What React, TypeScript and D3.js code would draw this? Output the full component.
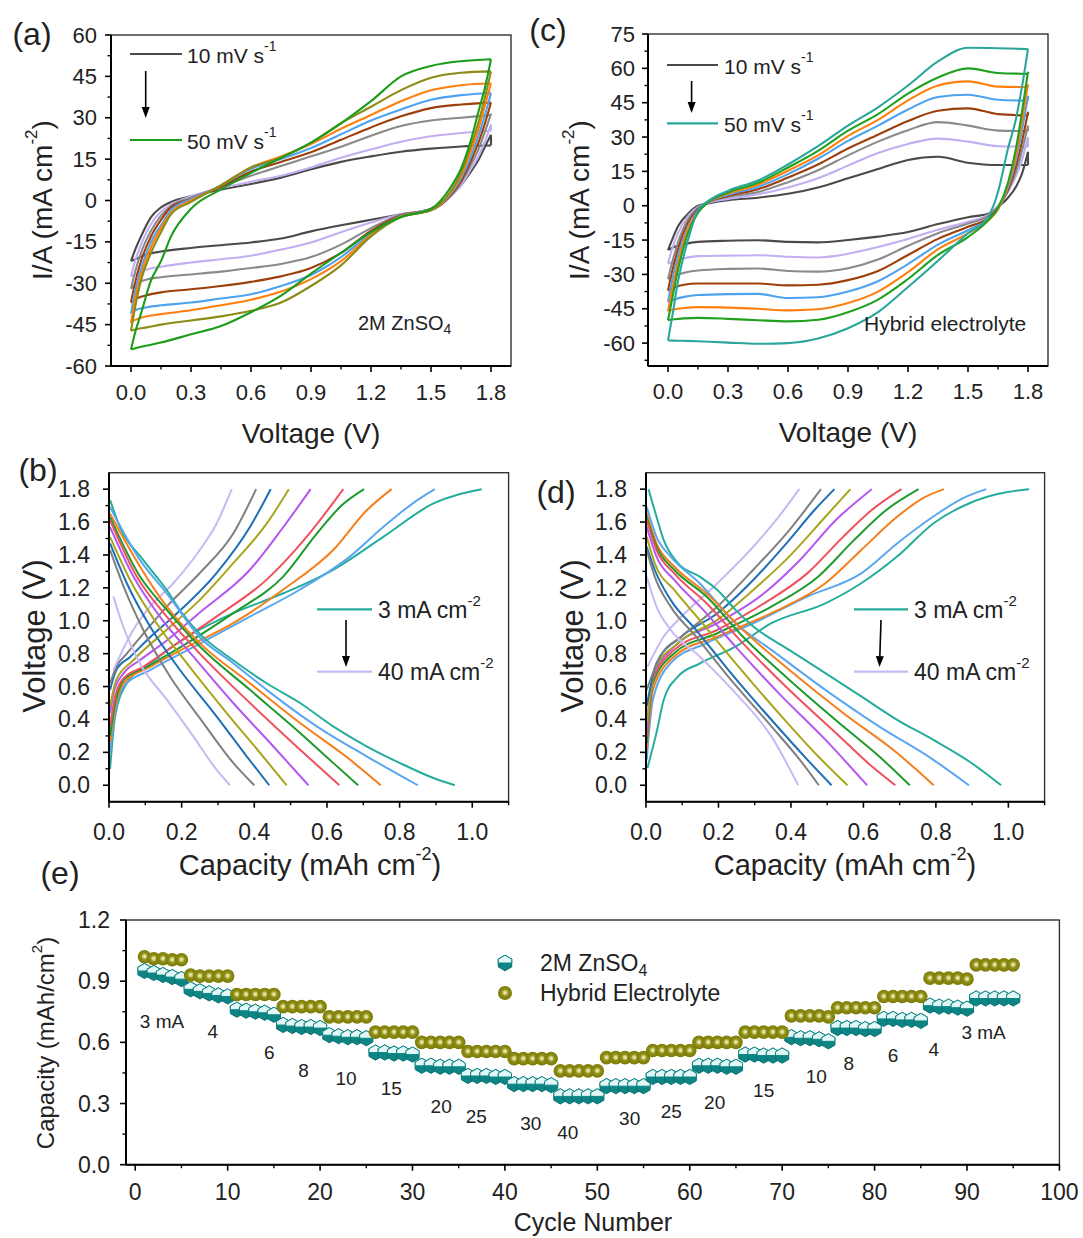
import React from "react";
import * as d3 from "d3";

const FONT = "'Liberation Sans', Arimo, Arial, Helvetica, sans-serif";

// ---------------- (a) / (c) cyclic voltammetry ----------------
const CV_UP_V = [0, 0.02, 0.05, 0.1, 0.15, 0.2, 0.3, 0.45, 0.6, 0.75, 0.9, 1.05, 1.2, 1.35, 1.5, 1.65, 1.8];
const CV_DN_V = [1.8, 1.77, 1.74, 1.7, 1.65, 1.6, 1.5, 1.35, 1.2, 1.05, 0.9, 0.75, 0.6, 0.45, 0.3, 0.15, 0.08, 0.03, 0];

const CV_A_COLORS = ["#4a4a4a", "#c3aef2", "#8a8a8a", "#9c3f0b", "#4fa3ee", "#ff7f0e", "#8b8b15", "#1c9c1c"];
const CV_C_COLORS = ["#4a4a4a", "#c3aef2", "#8a8a8a", "#9c3f0b", "#4fa3ee", "#ff7f0e", "#1fa01f", "#2aa69b"];

const CV_A_UPPER = [
  [-22, -18, -13, -6, -2.5, -0.5, 1.5, 4, 6, 8.3, 11.3, 14, 16, 17.7, 18.8, 19.6, 20],
  [-27.5, -22, -16, -8.5, -4, -1.5, 1.5, 4.5, 6.8, 9, 12, 15.5, 18.5, 21.3, 23.3, 24.5, 25.3],
  [-32, -26, -19, -11, -5.5, -2, 1, 5, 9, 12.5, 16, 19.5, 23.5, 27, 29, 30, 31],
  [-37, -30, -22, -13, -7, -2.5, 0.5, 5, 10.5, 14, 17.5, 22, 26.5, 30.5, 33.5, 34.8, 35.5],
  [-41, -33, -25, -15, -9, -3.5, 0.5, 5.5, 11.5, 15, 19, 24, 29, 33, 36.5, 38.2, 39],
  [-44.5, -36, -27, -17, -10, -4.5, 0, 5.5, 12, 16, 20.5, 26, 31, 36, 40, 41.8, 42.5],
  [-47.3, -39, -29, -19, -11.5, -5, -0.5, 5.5, 12, 15.5, 21, 28, 34, 40, 44.5, 46.3, 46.8],
  [-54, -48, -41, -29, -22, -13, -3, 4, 10, 15.5, 21, 28, 36, 45, 48.8, 50.5, 51.2],
];
const CV_A_LOWER = [
  [23.8, 19.5, 15, 10.5, 5.5, 2, -3, -5, -7, -9, -11.2, -13.8, -15.2, -16.2, -17.2, -18.5, -19.5, -21, -22],
  [27.5, 21.5, 16.5, 11.5, 5.5, 1.5, -3.3, -5, -8, -11.5, -15.2, -17.8, -20, -21.3, -22.5, -24, -25, -26.5, -27.5],
  [31.5, 25, 19, 13, 6.5, 2, -3.4, -5.2, -10, -16, -20.5, -23, -24.5, -25.8, -26.8, -27.8, -28.6, -30, -32],
  [35.5, 28, 21.5, 14.5, 7, 2, -3.5, -5.4, -11, -19, -24.5, -27.5, -29.5, -31, -32.2, -33.3, -34.3, -35.5, -37],
  [39, 31, 24, 16, 8, 2.5, -3.5, -5.6, -12, -20.5, -27, -31, -34, -35.5, -37, -38, -38.7, -39.5, -40.5],
  [42.5, 34.5, 26.5, 18, 9, 3, -3.5, -5.8, -12.5, -22, -28.5, -33, -36, -38, -39.8, -41.2, -42, -43, -44],
  [46.8, 37.5, 29, 20, 10, 3.5, -3.5, -6, -13, -23.5, -31, -37, -40, -42, -43.5, -45, -46, -46.6, -47.2],
  [51.2, 41, 33, 22, 11.5, 5, -3, -6, -11.5, -19, -26.5, -34.5, -40.5, -45.5, -48.5, -51.5, -52.6, -53.4, -54],
];

const CV_C_UPPER = [
  [-19.4, -15, -9, -3.5, 0, 1, 2.4, 3.5, 5.2, 8, 12, 16, 20, 21.4, 18.8, 17.8, 17.8],
  [-25.3, -19, -12, -4.5, -0.5, 1.2, 3, 5, 8, 12, 17.5, 23, 27, 29.3, 28, 26, 25.8],
  [-32, -25, -16, -6, -1, 1.5, 3.8, 6, 10.3, 15.5, 22, 28, 33, 36.5, 35, 32.8, 32.6],
  [-37, -29, -19, -7.5, -1.5, 1.5, 4.3, 7.2, 12.3, 18, 25, 31, 37, 41.5, 42.5, 40, 39.4],
  [-42, -33, -22, -9, -2, 1.5, 4.8, 8.2, 13.8, 20.5, 28.3, 35, 42, 47.5, 48.5, 46.3, 45.9],
  [-46, -37, -25, -10, -2.5, 1.5, 5.3, 9.2, 15.3, 22, 30.5, 37.5, 46, 52.5, 54.3, 52, 51.8],
  [-50, -41, -28, -12, -3, 1.5, 5.8, 10, 16.7, 24, 32.8, 40, 49, 56, 60, 58, 57.6],
  [-58.8, -49, -33, -15, -2, 2, 6.5, 11, 18, 26, 35, 43, 52.5, 63, 69, 68.8, 68.4],
];
const CV_C_LOWER = [
  [23.6, 14, 8.3, 3.5, -0.5, -3.5, -5, -8, -11.5, -13.5, -15, -16, -15.8, -15.1, -15.3, -15.8, -16.8, -18, -19.4],
  [30, 20, 13, 6, 0, -4, -7, -10.5, -14.5, -18, -21, -22.6, -22.3, -21.6, -21.8, -22, -23, -24.3, -25.3],
  [35, 24, 15, 6.5, -0.5, -4.5, -7.8, -12, -17.5, -23.5, -27.3, -28.8, -28.5, -27.4, -27.6, -28.3, -29.3, -30.8, -32],
  [41, 28, 17.5, 7, -1, -5.5, -9.2, -14.5, -21.5, -28.5, -32.5, -34.5, -34.8, -34, -34, -34, -34.5, -35.8, -37],
  [48, 33, 20, 8, -1.5, -6, -10.7, -17, -25.5, -33, -37.5, -40, -40.3, -38.5, -38.6, -39, -39.8, -41, -42],
  [53, 37, 22, 9, -1.5, -6.5, -12.1, -19, -29, -37.5, -42.5, -45.2, -45.7, -45, -44.5, -44.3, -44.7, -45.3, -46],
  [58.5, 41, 25, 10, -1, -6.5, -13.7, -21.5, -32, -41, -46.5, -49.8, -50.5, -50, -49.4, -49, -49.2, -49.6, -50],
  [68.4, 52, 38, 25, 6, -5, -12, -24, -35.5, -46.5, -53.5, -58, -60, -60.3, -59.8, -59.2, -59, -58.9, -58.8],
];

const CV_X_TICKS = [0, 0.3, 0.6, 0.9, 1.2, 1.5, 1.8];
const CV_X_MINOR = [0.15, 0.45, 0.75, 1.05, 1.35, 1.65];
const A_Y_TICKS = [-60, -45, -30, -15, 0, 15, 30, 45, 60];
const A_Y_MINOR = [-52.5, -37.5, -22.5, -7.5, 7.5, 22.5, 37.5, 52.5];
const C_Y_TICKS = [-60, -45, -30, -15, 0, 15, 30, 45, 60, 75];
const C_Y_MINOR = [-67.5, -52.5, -37.5, -22.5, -7.5, 7.5, 22.5, 37.5, 52.5, 67.5];

// ---------------- (b) / (d) charge-discharge ----------------
const GCD_COLORS = ["#25ad9c", "#5aa7ef", "#f47f1d", "#1f9a2e", "#f0515c", "#b457f0", "#a9a51d", "#1f6fb6", "#808080", "#c9b9f2"];

const GCD_B_CHARGE = [
  [[0.003, 0.1], [0.017, 0.42], [0.049, 0.62], [0.113, 0.74], [0.214, 0.9], [0.342, 1.046], [0.48, 1.167], [0.617, 1.31], [0.755, 1.51], [0.893, 1.713], [1.026, 1.8]],
  [[0.003, 0.2], [0.015, 0.42], [0.04, 0.6], [0.113, 0.7], [0.232, 0.84], [0.388, 1.025], [0.526, 1.19], [0.663, 1.39], [0.755, 1.57], [0.84, 1.72], [0.897, 1.8]],
  [[0.003, 0.26], [0.015, 0.45], [0.04, 0.62], [0.113, 0.72], [0.214, 0.84], [0.342, 0.985], [0.48, 1.19], [0.617, 1.43], [0.709, 1.67], [0.778, 1.8]],
  [[0.003, 0.3], [0.015, 0.48], [0.04, 0.64], [0.104, 0.72], [0.205, 0.85], [0.342, 1.046], [0.48, 1.27], [0.572, 1.53], [0.64, 1.7], [0.702, 1.8]],
  [[0.003, 0.36], [0.015, 0.52], [0.04, 0.65], [0.094, 0.72], [0.186, 0.86], [0.296, 1.025], [0.434, 1.25], [0.544, 1.51], [0.645, 1.8]],
  [[0.003, 0.44], [0.015, 0.58], [0.04, 0.68], [0.085, 0.76], [0.159, 0.88], [0.25, 1.05], [0.388, 1.31], [0.48, 1.57], [0.555, 1.8]],
  [[0.003, 0.48], [0.02, 0.64], [0.067, 0.76], [0.159, 0.945], [0.25, 1.127], [0.342, 1.35], [0.434, 1.59], [0.495, 1.8]],
  [[0.003, 0.58], [0.02, 0.7], [0.058, 0.78], [0.113, 0.9], [0.177, 1.025], [0.296, 1.29], [0.388, 1.57], [0.445, 1.8]],
  [[0.003, 0.62], [0.02, 0.72], [0.049, 0.8], [0.094, 0.92], [0.159, 1.086], [0.25, 1.29], [0.342, 1.53], [0.405, 1.8]],
  [[0.012, 0.7], [0.067, 0.945], [0.113, 1.086], [0.177, 1.228], [0.25, 1.43], [0.296, 1.59], [0.338, 1.8]],
];
const GCD_B_DISCHARGE = [
  [[0.003, 1.733], [0.03, 1.57], [0.094, 1.37], [0.159, 1.187], [0.2, 1.05], [0.25, 0.92], [0.342, 0.76], [0.434, 0.62], [0.526, 0.5], [0.617, 0.358], [0.709, 0.237], [0.8, 0.136], [0.893, 0.044], [0.952, 0]],
  [[0.003, 1.69], [0.085, 1.37], [0.159, 1.167], [0.25, 0.9], [0.342, 0.742], [0.434, 0.58], [0.572, 0.358], [0.709, 0.176], [0.85, 0]],
  [[0.003, 1.65], [0.085, 1.33], [0.159, 1.086], [0.25, 0.864], [0.388, 0.62], [0.526, 0.378], [0.663, 0.156], [0.748, 0]],
  [[0.003, 1.63], [0.085, 1.27], [0.159, 1.066], [0.25, 0.843], [0.388, 0.58], [0.526, 0.318], [0.617, 0.136], [0.686, 0]],
  [[0.003, 1.61], [0.076, 1.27], [0.159, 1.025], [0.25, 0.8], [0.388, 0.5], [0.526, 0.216], [0.634, 0]],
  [[0.003, 1.57], [0.067, 1.27], [0.14, 1.025], [0.232, 0.783], [0.342, 0.5], [0.452, 0.237], [0.549, 0]],
  [[0.003, 1.51], [0.058, 1.248], [0.131, 0.985], [0.214, 0.742], [0.324, 0.439], [0.416, 0.196], [0.489, 0]],
  [[0.003, 1.47], [0.049, 1.228], [0.113, 0.965], [0.195, 0.702], [0.296, 0.419], [0.379, 0.176], [0.441, 0]],
  [[0.003, 1.43], [0.044, 1.187], [0.094, 0.945], [0.168, 0.661], [0.26, 0.378], [0.342, 0.136], [0.4, 0]],
  [[0.012, 1.147], [0.039, 0.965], [0.085, 0.742], [0.159, 0.52], [0.232, 0.297], [0.296, 0.095], [0.333, 0]],
];

const GCD_D_CHARGE = [
  [[0.004, 0.105], [0.029, 0.32], [0.049, 0.52], [0.088, 0.66], [0.148, 0.74], [0.247, 0.843], [0.346, 0.985], [0.495, 1.106], [0.594, 1.228], [0.693, 1.39], [0.792, 1.59], [0.891, 1.713], [0.97, 1.77], [1.057, 1.8]],
  [[0.002, 0.156], [0.019, 0.52], [0.068, 0.742], [0.167, 0.864], [0.296, 0.985], [0.445, 1.147], [0.594, 1.288], [0.693, 1.47], [0.792, 1.632], [0.87, 1.74], [0.939, 1.8]],
  [[0.002, 0.216], [0.019, 0.58], [0.078, 0.783], [0.197, 0.904], [0.346, 1.046], [0.495, 1.228], [0.594, 1.43], [0.693, 1.632], [0.76, 1.74], [0.822, 1.8]],
  [[0.002, 0.257], [0.019, 0.62], [0.078, 0.803], [0.197, 0.924], [0.346, 1.086], [0.475, 1.268], [0.574, 1.49], [0.663, 1.673], [0.752, 1.8]],
  [[0.002, 0.297], [0.019, 0.64], [0.078, 0.823], [0.197, 0.945], [0.326, 1.106], [0.445, 1.288], [0.544, 1.51], [0.623, 1.673], [0.705, 1.8]],
  [[0.002, 0.338], [0.019, 0.661], [0.078, 0.843], [0.197, 0.985], [0.326, 1.167], [0.425, 1.369], [0.524, 1.612], [0.623, 1.8]],
  [[0.002, 0.378], [0.024, 0.7], [0.088, 0.864], [0.197, 1.005], [0.296, 1.187], [0.395, 1.39], [0.495, 1.632], [0.564, 1.8]],
  [[0.002, 0.48], [0.029, 0.742], [0.098, 0.904], [0.197, 1.046], [0.296, 1.248], [0.395, 1.49], [0.465, 1.673], [0.52, 1.8]],
  [[0.002, 0.58], [0.039, 0.783], [0.098, 0.904], [0.197, 1.086], [0.296, 1.31], [0.395, 1.55], [0.483, 1.8]],
  [[0.004, 0.72], [0.049, 0.904], [0.098, 1.025], [0.197, 1.228], [0.296, 1.45], [0.366, 1.632], [0.423, 1.8]],
];
const GCD_D_DISCHARGE = [
  [[0.007, 1.8], [0.029, 1.632], [0.049, 1.49], [0.088, 1.35], [0.148, 1.268], [0.197, 1.187], [0.247, 1.066], [0.296, 0.965], [0.395, 0.823], [0.495, 0.682], [0.594, 0.54], [0.693, 0.398], [0.792, 0.277], [0.891, 0.146], [0.98, 0]],
  [[0.002, 1.693], [0.029, 1.51], [0.068, 1.39], [0.148, 1.228], [0.247, 0.985], [0.346, 0.823], [0.495, 0.58], [0.643, 0.358], [0.792, 0.156], [0.891, 0]],
  [[0.002, 1.653], [0.029, 1.47], [0.078, 1.33], [0.167, 1.167], [0.267, 0.945], [0.395, 0.702], [0.544, 0.439], [0.693, 0.196], [0.794, 0]],
  [[0.002, 1.632], [0.029, 1.45], [0.078, 1.31], [0.167, 1.147], [0.267, 0.904], [0.395, 0.641], [0.544, 0.358], [0.643, 0.176], [0.728, 0]],
  [[0.002, 1.612], [0.029, 1.43], [0.078, 1.288], [0.167, 1.106], [0.267, 0.864], [0.395, 0.58], [0.524, 0.318], [0.623, 0.115], [0.688, 0]],
  [[0.002, 1.572], [0.029, 1.39], [0.078, 1.248], [0.158, 1.066], [0.247, 0.843], [0.366, 0.56], [0.495, 0.277], [0.61, 0]],
  [[0.002, 1.51], [0.024, 1.35], [0.078, 1.187], [0.148, 1.005], [0.247, 0.742], [0.366, 0.439], [0.475, 0.176], [0.556, 0]],
  [[0.002, 1.45], [0.024, 1.31], [0.068, 1.127], [0.138, 0.945], [0.227, 0.702], [0.346, 0.398], [0.445, 0.156], [0.512, 0]],
  [[0.002, 1.43], [0.024, 1.268], [0.068, 1.086], [0.138, 0.904], [0.227, 0.661], [0.346, 0.358], [0.424, 0.156], [0.477, 0]],
  [[0.002, 1.268], [0.029, 1.086], [0.068, 0.945], [0.148, 0.783], [0.247, 0.56], [0.346, 0.297], [0.42, 0]],
];

const GCD_X_TICKS = [0, 0.2, 0.4, 0.6, 0.8, 1.0];
const GCD_X_MINOR = [0.1, 0.3, 0.5, 0.7, 0.9, 1.1];
const GCD_Y_TICKS = [0, 0.2, 0.4, 0.6, 0.8, 1.0, 1.2, 1.4, 1.6, 1.8];
const GCD_Y_MINOR = [0.1, 0.3, 0.5, 0.7, 0.9, 1.1, 1.3, 1.5, 1.7];

// ---------------- (e) rate capability ----------------
const ZN_CAP = [
  0.95, 0.94, 0.93, 0.92, 0.91,
  0.86, 0.85, 0.84, 0.83, 0.825,
  0.76, 0.755, 0.75, 0.745, 0.735,
  0.685, 0.68, 0.675, 0.675, 0.67,
  0.635, 0.63, 0.625, 0.625, 0.62,
  0.55, 0.55, 0.545, 0.545, 0.54,
  0.485, 0.485, 0.48, 0.48, 0.48,
  0.435, 0.435, 0.435, 0.43, 0.43,
  0.395, 0.395, 0.395, 0.395, 0.39,
  0.335, 0.335, 0.335, 0.335, 0.335,
  0.385, 0.385, 0.385, 0.385, 0.385,
  0.43, 0.43, 0.43, 0.43, 0.43,
  0.485, 0.485, 0.485, 0.48, 0.48,
  0.54, 0.54, 0.535, 0.535, 0.535,
  0.625, 0.62, 0.62, 0.615, 0.605,
  0.67, 0.67, 0.67, 0.665, 0.665,
  0.715, 0.715, 0.71, 0.71, 0.705,
  0.78, 0.775, 0.775, 0.77, 0.765,
  0.815, 0.815, 0.815, 0.815, 0.815,
];
const HY_CAP = [
  1.02, 1.01, 1.01, 1.005, 1.005,
  0.93, 0.925, 0.925, 0.925, 0.925,
  0.835, 0.835, 0.835, 0.835, 0.835,
  0.775, 0.775, 0.775, 0.775, 0.775,
  0.725, 0.725, 0.725, 0.725, 0.725,
  0.65, 0.65, 0.65, 0.65, 0.65,
  0.6, 0.6, 0.6, 0.6, 0.6,
  0.555, 0.555, 0.555, 0.555, 0.555,
  0.52, 0.52, 0.52, 0.52, 0.52,
  0.46, 0.46, 0.46, 0.46, 0.46,
  0.525, 0.525, 0.525, 0.525, 0.525,
  0.56, 0.56, 0.56, 0.56, 0.56,
  0.6, 0.6, 0.6, 0.6, 0.6,
  0.65, 0.65, 0.65, 0.65, 0.65,
  0.73, 0.73, 0.73, 0.73, 0.725,
  0.77, 0.77, 0.77, 0.77, 0.77,
  0.825, 0.825, 0.825, 0.825, 0.825,
  0.915, 0.915, 0.915, 0.915, 0.91,
  0.98, 0.98, 0.98, 0.98, 0.98,
];
const RATE_LABELS = ["3 mA", "4", "6", "8", "10", "15", "20", "25", "30", "40", "30", "25", "20", "15", "10", "8", "6", "4", "3 mA"];
const RATE_LABEL_CYCLE = [2.9, 8.4, 14.5, 18.2, 22.8, 27.7, 33.1, 36.9, 42.8, 46.8, 53.5, 58, 62.7, 68, 73.7, 77.2, 82, 86.4, 91.8];
const RATE_LABEL_CAP = [0.7, 0.652, 0.548, 0.464, 0.425, 0.376, 0.284, 0.235, 0.204, 0.157, 0.228, 0.26, 0.306, 0.366, 0.432, 0.497, 0.535, 0.563, 0.647];
const E_X_TICKS = [0, 10, 20, 30, 40, 50, 60, 70, 80, 90, 100];
const E_X_MINOR = [5, 15, 25, 35, 45, 55, 65, 75, 85, 95];
const E_Y_TICKS = [0, 0.3, 0.6, 0.9, 1.2];
const E_Y_MINOR = [0.15, 0.45, 0.75, 1.05];

// ---------------- scales ----------------
const xA = d3.scaleLinear().domain([-0.1, 1.9]).range([111, 511]);
const yA = d3.scaleLinear().domain([-60, 60]).range([366, 35]);
const xC = d3.scaleLinear().domain([-0.1, 1.9]).range([648, 1048]);
const yC = d3.scaleLinear().domain([-70, 75]).range([366, 34]);
const xB = d3.scaleLinear().domain([0, 1.1]).range([109, 508.6]);
const yB = d3.scaleLinear().domain([-0.1, 1.9]).range([801.7, 472.7]);
const xD = d3.scaleLinear().domain([0, 1.1]).range([646, 1044.6]);
const yD = d3.scaleLinear().domain([-0.1, 1.9]).range([801.7, 472.7]);
const xE = d3.scaleLinear().domain([-1, 100]).range([126, 1059.4]);
const yE = d3.scaleLinear().domain([0, 1.2]).range([1164.7, 920]);

const f1 = d3.format(".1f");
const fInt = (v) => String(v);

function Frame({ x, y, xTicks, xMinor, yTicks, yMinor, xFmt, yFmt, fs, xLabY, yGap }) {
  const [x0, x1] = x.range();
  const [y0, y1] = y.range();
  return (
    <g>
      <rect x={x0} y={y1} width={x1 - x0} height={y0 - y1} fill="none" stroke="#333" strokeWidth={1.4} />
      <line x1={x0} x2={x1} y1={y0} y2={y0} stroke="#000" strokeWidth={2} />
      <line x1={x0} x2={x0} y1={y0} y2={y1} stroke="#000" strokeWidth={2} />
      {xTicks.map((t) => (
        <line key={"xt" + t} x1={x(t)} x2={x(t)} y1={y0} y2={y0 + 6} stroke="#000" strokeWidth={1.6} />
      ))}
      {xMinor.map((t) => (
        <line key={"xm" + t} x1={x(t)} x2={x(t)} y1={y0} y2={y0 + 3.5} stroke="#000" strokeWidth={1.4} />
      ))}
      {yTicks.map((t) => (
        <line key={"yt" + t} x1={x0 - 6} x2={x0} y1={y(t)} y2={y(t)} stroke="#000" strokeWidth={1.6} />
      ))}
      {yMinor.map((t) => (
        <line key={"ym" + t} x1={x0 - 3.5} x2={x0} y1={y(t)} y2={y(t)} stroke="#000" strokeWidth={1.4} />
      ))}
      {xTicks.map((t) => (
        <text key={"xl" + t} x={x(t)} y={xLabY} textAnchor="middle" dominantBaseline="central" fontSize={fs} fill="#222">
          {xFmt(t)}
        </text>
      ))}
      {yTicks.map((t) => (
        <text key={"yl" + t} x={x0 - yGap} y={y(t)} textAnchor="end" dominantBaseline="central" fontSize={fs} fill="#222">
          {yFmt(t)}
        </text>
      ))}
    </g>
  );
}

function cvPath(x, y, upper, lower) {
  const line = d3
    .line()
    .x((d) => x(d[0]))
    .y((d) => y(d[1]))
    .curve(d3.curveMonotoneX);
  const up = CV_UP_V.map((v, i) => [v, upper[i]]);
  const dn = CV_DN_V.map((v, i) => [v, lower[i]]).reverse();
  return (
    line(up) +
    line(dn) +
    `M${x(1.8)},${y(upper[upper.length - 1])}L${x(1.8)},${y(lower[0])}`
  );
}

function gcdPath(x, y, pts) {
  return d3
    .line()
    .x((d) => x(d[0]))
    .y((d) => y(d[1]))
    .curve(d3.curveMonotoneX)(pts);
}

function Arrow({ x1, y1, x2, y2 }) {
  const ang = Math.atan2(y2 - y1, x2 - x1);
  const L = 11, Wd = 4;
  const bx = x2 - L * Math.cos(ang), by = y2 - L * Math.sin(ang);
  const px = -Math.sin(ang) * Wd, py = Math.cos(ang) * Wd;
  return (
    <g>
      <line x1={x1} y1={y1} x2={bx} y2={by} stroke="#000" strokeWidth={1.6} />
      <path d={`M${x2},${y2}L${bx + px},${by + py}L${bx - px},${by - py}Z`} fill="#000" />
    </g>
  );
}

function hexTop(r) {
  const c = r * Math.cos(Math.PI / 6);
  return `M0,${-r}L${c},${-r / 2}L${c},0L${-c},0L${-c},${-r / 2}Z`;
}
function hexFull(r) {
  const c = r * Math.cos(Math.PI / 6);
  return `M0,${-r}L${c},${-r / 2}L${c},${r / 2}L0,${r}L${-c},${r / 2}L${-c},${-r / 2}Z`;
}

function HexMarker({ cx, cy, r = 7.6 }) {
  return (
    <g transform={`translate(${cx},${cy})`}>
      <path d={hexFull(r)} fill="#0d8585" stroke="#0b7272" strokeWidth={1} />
      <path d={hexTop(r)} fill="#e4f7f7" stroke="#0d8585" strokeWidth={1} />
    </g>
  );
}
function BallMarker({ cx, cy, r = 6.8 }) {
  return <circle cx={cx} cy={cy} r={r} fill="url(#ballGrad)" />;
}

export default function App() {
  const txt = { fontFamily: FONT };
  return (
    <svg
      width={1083}
      height={1238}
      viewBox="0 0 1083 1238"
      style={{ position: "absolute", left: 0, top: 0, background: "#fff", fontFamily: FONT }}
    >
      <defs>
        <radialGradient id="ballGrad" cx="50%" cy="48%" r="55%">
          <stop offset="0%" stopColor="#f6f6d8" />
          <stop offset="22%" stopColor="#cfcf7a" />
          <stop offset="45%" stopColor="#8e8e17" />
          <stop offset="100%" stopColor="#777703" />
        </radialGradient>
      </defs>
      <rect x={0} y={0} width={1083} height={1238} fill="#fff" />

      {/* ---------- (a) ---------- */}
      <g style={txt}>
        {CV_A_UPPER.map((u, i) => (
          <path key={"a" + i} d={cvPath(xA, yA, u, CV_A_LOWER[i])} fill="none" stroke={CV_A_COLORS[i]} strokeWidth={2.1} />
        ))}
        <Frame x={xA} y={yA} xTicks={CV_X_TICKS} xMinor={CV_X_MINOR} yTicks={A_Y_TICKS} yMinor={A_Y_MINOR}
          xFmt={f1} yFmt={fInt} fs={22} xLabY={392} yGap={14} />
        <text x={32} y={34} textAnchor="middle" dominantBaseline="central" fontSize={32} fill="#222">(a)</text>
        <text x={311} y={433} textAnchor="middle" dominantBaseline="central" fontSize={28} fill="#222">Voltage (V)</text>
        <text transform="translate(42,200) rotate(-90)" textAnchor="middle" dominantBaseline="central" fontSize={28} fill="#222">
          I/A (mA cm<tspan dy={-11} fontSize={17}>-2</tspan><tspan dy={11}>)</tspan>
        </text>
        <line x1={130} x2={182} y1={54} y2={54} stroke={CV_A_COLORS[0]} strokeWidth={2.2} />
        <text x={187} y={55} dominantBaseline="central" fontSize={21} fill="#222">
          10 mV s<tspan dy={-9} fontSize={14}>-1</tspan>
        </text>
        <Arrow x1={145.7} y1={71} x2={145.7} y2={118} />
        <line x1={130} x2={182} y1={140} y2={140} stroke={CV_A_COLORS[7]} strokeWidth={2.2} />
        <text x={187} y={141} dominantBaseline="central" fontSize={21} fill="#222">
          50 mV s<tspan dy={-9} fontSize={14}>-1</tspan>
        </text>
        <text x={358} y={323} dominantBaseline="central" fontSize={20} fill="#222">
          2M ZnSO<tspan dy={6} fontSize={14}>4</tspan>
        </text>
      </g>

      {/* ---------- (c) ---------- */}
      <g style={txt}>
        {CV_C_UPPER.map((u, i) => (
          <path key={"c" + i} d={cvPath(xC, yC, u, CV_C_LOWER[i])} fill="none" stroke={CV_C_COLORS[i]} strokeWidth={2.1} />
        ))}
        <Frame x={xC} y={yC} xTicks={CV_X_TICKS} xMinor={CV_X_MINOR} yTicks={C_Y_TICKS} yMinor={C_Y_MINOR}
          xFmt={f1} yFmt={fInt} fs={22} xLabY={391} yGap={13} />
        <text x={548} y={30} textAnchor="middle" dominantBaseline="central" fontSize={32} fill="#222">(c)</text>
        <text x={848} y={432} textAnchor="middle" dominantBaseline="central" fontSize={28} fill="#222">Voltage (V)</text>
        <text transform="translate(579,200) rotate(-90)" textAnchor="middle" dominantBaseline="central" fontSize={28} fill="#222">
          I/A (mA cm<tspan dy={-11} fontSize={17}>-2</tspan><tspan dy={11}>)</tspan>
        </text>
        <line x1={667} x2={718} y1={65} y2={65} stroke={CV_C_COLORS[0]} strokeWidth={2.2} />
        <text x={724} y={66} dominantBaseline="central" fontSize={21} fill="#222">
          10 mV s<tspan dy={-9} fontSize={14}>-1</tspan>
        </text>
        <Arrow x1={691.6} y1={81} x2={691.6} y2={113} />
        <line x1={667} x2={718} y1={123.3} y2={123.3} stroke={CV_C_COLORS[7]} strokeWidth={2.2} />
        <text x={724} y={124} dominantBaseline="central" fontSize={21} fill="#222">
          50 mV s<tspan dy={-9} fontSize={14}>-1</tspan>
        </text>
        <text x={864} y={323} dominantBaseline="central" fontSize={21} fill="#222">Hybrid electrolyte</text>
      </g>

      {/* ---------- (b) ---------- */}
      <g style={txt}>
        {GCD_B_CHARGE.map((p, i) => (
          <path key={"bc" + i} d={gcdPath(xB, yB, p)} fill="none" stroke={GCD_COLORS[i]} strokeWidth={2} />
        ))}
        {GCD_B_DISCHARGE.map((p, i) => (
          <path key={"bd" + i} d={gcdPath(xB, yB, p)} fill="none" stroke={GCD_COLORS[i]} strokeWidth={2} />
        ))}
        <Frame x={xB} y={yB} xTicks={GCD_X_TICKS} xMinor={GCD_X_MINOR} yTicks={GCD_Y_TICKS} yMinor={GCD_Y_MINOR}
          xFmt={f1} yFmt={f1} fs={23} xLabY={832} yGap={19} />
        <text x={38} y={470} textAnchor="middle" dominantBaseline="central" fontSize={32} fill="#222">(b)</text>
        <text x={310} y={865} textAnchor="middle" dominantBaseline="central" fontSize={29} fill="#222">
          Capacity (mAh cm<tspan dy={-11} fontSize={18}>-2</tspan><tspan dy={11}>)</tspan>
        </text>
        <text transform="translate(34,636) rotate(-90)" textAnchor="middle" dominantBaseline="central" fontSize={31} fill="#222">
          Voltage (V)
        </text>
        <line x1={317} x2={372} y1={609.3} y2={609.3} stroke={GCD_COLORS[0]} strokeWidth={2.2} />
        <text x={378} y={610} dominantBaseline="central" fontSize={23} fill="#222">
          3 mA cm<tspan dy={-10} fontSize={15}>-2</tspan>
        </text>
        <Arrow x1={346} y1={620} x2={346} y2={667} />
        <line x1={317} x2={372} y1={671.7} y2={671.7} stroke={GCD_COLORS[9]} strokeWidth={2.2} />
        <text x={378} y={672} dominantBaseline="central" fontSize={23} fill="#222">
          40 mA cm<tspan dy={-10} fontSize={15}>-2</tspan>
        </text>
      </g>

      {/* ---------- (d) ---------- */}
      <g style={txt}>
        {GCD_D_CHARGE.map((p, i) => (
          <path key={"dc" + i} d={gcdPath(xD, yD, p)} fill="none" stroke={GCD_COLORS[i]} strokeWidth={2} />
        ))}
        {GCD_D_DISCHARGE.map((p, i) => (
          <path key={"dd" + i} d={gcdPath(xD, yD, p)} fill="none" stroke={GCD_COLORS[i]} strokeWidth={2} />
        ))}
        <Frame x={xD} y={yD} xTicks={GCD_X_TICKS} xMinor={GCD_X_MINOR} yTicks={GCD_Y_TICKS} yMinor={GCD_Y_MINOR}
          xFmt={f1} yFmt={f1} fs={23} xLabY={832} yGap={19} />
        <text x={556} y={492} textAnchor="middle" dominantBaseline="central" fontSize={32} fill="#222">(d)</text>
        <text x={845} y={865} textAnchor="middle" dominantBaseline="central" fontSize={29} fill="#222">
          Capacity (mAh cm<tspan dy={-11} fontSize={18}>-2</tspan><tspan dy={11}>)</tspan>
        </text>
        <text transform="translate(572,636) rotate(-90)" textAnchor="middle" dominantBaseline="central" fontSize={31} fill="#222">
          Voltage (V)
        </text>
        <line x1={854} x2={908} y1={609.3} y2={609.3} stroke={GCD_COLORS[0]} strokeWidth={2.2} />
        <text x={914} y={610} dominantBaseline="central" fontSize={23} fill="#222">
          3 mA cm<tspan dy={-10} fontSize={15}>-2</tspan>
        </text>
        <Arrow x1={881} y1={620} x2={879.5} y2={667} />
        <line x1={854} x2={908} y1={671.7} y2={671.7} stroke={GCD_COLORS[9]} strokeWidth={2.2} />
        <text x={914} y={672} dominantBaseline="central" fontSize={23} fill="#222">
          40 mA cm<tspan dy={-10} fontSize={15}>-2</tspan>
        </text>
      </g>

      {/* ---------- (e) ---------- */}
      <g style={txt}>
        <Frame x={xE} y={yE} xTicks={E_X_TICKS} xMinor={E_X_MINOR} yTicks={E_Y_TICKS} yMinor={E_Y_MINOR}
          xFmt={fInt} yFmt={f1} fs={23} xLabY={1192} yGap={16} />
        {ZN_CAP.map((v, i) => (
          <HexMarker key={"z" + i} cx={xE(i + 1)} cy={yE(v)} />
        ))}
        {HY_CAP.map((v, i) => (
          <BallMarker key={"h" + i} cx={xE(i + 1)} cy={yE(v)} />
        ))}
        {RATE_LABELS.map((s, i) => (
          <text key={"rl" + i} x={xE(RATE_LABEL_CYCLE[i])} y={yE(RATE_LABEL_CAP[i])} textAnchor="middle"
            dominantBaseline="central" fontSize={19} fill="#222">{s}</text>
        ))}
        <HexMarker cx={505} cy={963} r={7.8} />
        <BallMarker cx={505} cy={993} r={7} />
        <text x={540} y={963} dominantBaseline="central" fontSize={23} fill="#222">
          2M ZnSO<tspan dy={7} fontSize={16}>4</tspan>
        </text>
        <text x={540} y={993} dominantBaseline="central" fontSize={23} fill="#222">Hybrid Electrolyte</text>
        <text x={60} y={873} textAnchor="middle" dominantBaseline="central" fontSize={32} fill="#222">(e)</text>
        <text x={593} y={1222} textAnchor="middle" dominantBaseline="central" fontSize={25} fill="#222">Cycle Number</text>
        <text transform="translate(45,1043) rotate(-90)" textAnchor="middle" dominantBaseline="central" fontSize={24} fill="#222">
          Capacity (mAh/cm<tspan dy={-9} fontSize={15}>2</tspan><tspan dy={9}>)</tspan>
        </text>
      </g>
    </svg>
  );
}
